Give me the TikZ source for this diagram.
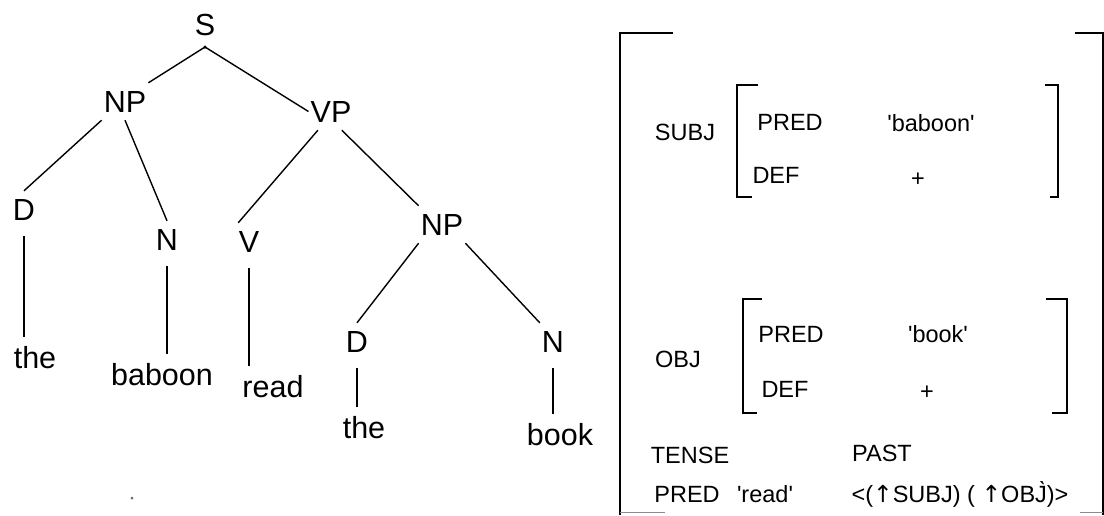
\documentclass[tikz,border=0pt]{standalone}
\usepackage{fontspec}
\setmainfont{Liberation Sans}
\newfontfamily\arrowfont{DejaVu Sans}
\newcommand{\q}{\textquotesingle}
\begin{document}
\begin{tikzpicture}[x=1pt,y=-1pt,
  tn/.style={anchor=base, inner xsep=2pt, inner ysep=8pt, text height=21pt, text depth=0pt,
             font=\fontsize{30.5}{30.5}\selectfont},
  av/.style={anchor=base, inner sep=0pt, font=\fontsize{23.5}{23.5}\selectfont},
  edge/.style={line width=1.4pt, black},
  vl/.style={edge, shorten <=8pt, shorten >=2pt},
  brk/.style={line width=2pt, black},
  thin/.style={line width=1pt, black!45}]
\useasboundingbox (0,0) rectangle (1104,515);

% ---------------- tree ----------------
\node[tn] (s) at (205,35) {S};
\node[circle, fill, inner sep=0pt, minimum size=3.5pt] (sdot) at (205,47) {};
\node[tn] (np1) at (125,112) {NP};
\node[tn] (vp) at (331,122) {VP};
\node[tn] (d1) at (24,220) {D};
\node[tn] (n1) at (167,250) {N};
\node[tn] (v1) at (249,252) {V};
\node[tn] (np2) at (442,235) {NP};
\node[tn] (d2) at (357,352) {D};
\node[tn] (n2) at (553,352) {N};
\node[tn] (the1) at (35,368) {the};
\node[tn] (baboon) at (162,385) {baboon};
\node[tn] (read) at (273,397) {read};
\node[tn] (the2) at (364,438) {the};
\node[tn] (book) at (560,445) {book};
\node[circle, fill=black!60, inner sep=0pt, minimum size=3pt] (stray) at (132,498) {};

\draw[edge] (sdot.center) -- (np1.north east);
\draw[edge] (sdot.center) -- (vp.west);
\draw[edge] (np1.south west) -- (d1.north);
\draw[edge] (np1.south) -- (n1.north);
\draw[edge] (vp.-125) -- (v1.120);
\draw[edge] (vp.-60) -- (np2.north west);
\draw[edge] (np2.south west) -- (d2.north);
\draw[edge] (np2.south east) -- (n2.north west);
\draw[vl] (d1.south) -- (d1.south |- the1.north);
\draw[vl] (n1.south) -- (n1.south |- baboon.north);
\draw[vl] (v1.south) -- (v1.south |- read.north);
\draw[vl] (d2.south) -- (d2.south |- the2.north);
\draw[vl] (n2.south) -- (n2.south |- book.north);

% ---------------- f-structure ----------------
% outer bracket
\draw[brk] (673,33) -- (620,33) -- (620,515);
\draw[brk] (1075,33) -- (1103,33) -- (1103,515);
\draw[thin] (620,512) -- (665,512);
\draw[thin] (1080,512) -- (1103,512);
% SUBJ bracket
\draw[brk] (758,85) -- (737,85) -- (737,197) -- (752,197);
\draw[brk] (1045,85) -- (1058,85) -- (1058,197) -- (1050,197);
% OBJ bracket
\draw[brk] (762,299) -- (743,299) -- (743,413) -- (757,413);
\draw[brk] (1046,299) -- (1067,299) -- (1067,413) -- (1052,413);

\node[av] (subj) at (685,140) {SUBJ};
\node[av] (pred1) at (790,130) {PRED};
\node[av] (bab) at (931,131) {\q baboon\q};
\node[av] (def1) at (776,183) {DEF};
\node[av, anchor=center] (plus1) at (918,180) {+};

\node[av] (obj) at (678,367) {OBJ};
\node[av] (pred2) at (791,342) {PRED};
\node[av] (bk) at (938,342) {\q book\q};
\node[av] (def2) at (785,397) {DEF};
\node[av, anchor=center] (plus2) at (927,393) {+};

\node[av] (tense) at (690,463) {TENSE};
\node[av] (past) at (882,461) {PAST};
\node[av] (pred3) at (687,502) {PRED};
\node[av] (rd) at (765,502) {\q read\q};
\node[av] (args) at (960,502) {<({\arrowfont ↑}SUBJ) ( {\arrowfont ↑}OB\`{J})>};
\end{tikzpicture}
\end{document}
